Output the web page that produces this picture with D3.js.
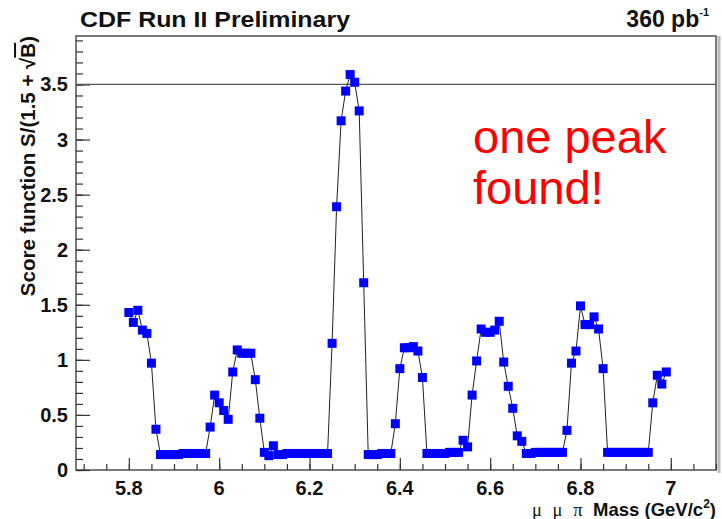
<!DOCTYPE html>
<html>
<head>
<meta charset="utf-8">
<script src="https://cdn.jsdelivr.net/npm/d3@7"></script>
<style>
  html, body { margin: 0; padding: 0; background: #fff; }
  svg { display: block; }
  text { font-family: "Liberation Sans", Arial, Helvetica, sans-serif; }
</style>
</head>
<body>
<svg id="chart" width="722" height="519"></svg>
<script>
// μμπ invariant mass bin centres (GeV/c^2)
const mass = [
  5.80, 5.81, 5.82, 5.83, 5.84, 5.85, 5.86, 5.87, 5.88, 5.89,
  5.90, 5.91, 5.92, 5.93, 5.94, 5.95, 5.96, 5.97, 5.98, 5.99,
  6.00, 6.01, 6.02, 6.03, 6.04, 6.05, 6.06, 6.07, 6.08, 6.09,
  6.10, 6.11, 6.12, 6.13, 6.14, 6.15, 6.16, 6.17, 6.18, 6.19,
  6.20, 6.21, 6.22, 6.23, 6.24, 6.25, 6.26, 6.27, 6.28, 6.29,
  6.30, 6.31, 6.32, 6.33, 6.34, 6.35, 6.36, 6.37, 6.38, 6.39,
  6.40, 6.41, 6.42, 6.43, 6.44, 6.45, 6.46, 6.47, 6.48, 6.49,
  6.50, 6.51, 6.52, 6.53, 6.54, 6.55, 6.56, 6.57, 6.58, 6.59,
  6.60, 6.61, 6.62, 6.63, 6.64, 6.65, 6.66, 6.67, 6.68, 6.69,
  6.70, 6.71, 6.72, 6.73, 6.74, 6.75, 6.76, 6.77, 6.78, 6.79,
  6.80, 6.81, 6.82, 6.83, 6.84, 6.85, 6.86, 6.87, 6.88, 6.89,
  6.90, 6.91, 6.92, 6.93, 6.94, 6.95, 6.96, 6.97, 6.98, 6.99
];

// Score function S/(1.5 + sqrt(B)) for each mass bin
const score = [
  1.43, 1.34, 1.45, 1.27, 1.24, 0.97, 0.37, 0.14, 0.14, 0.14,
  0.14, 0.14, 0.15, 0.15, 0.15, 0.15, 0.15, 0.15, 0.39, 0.68,
  0.61, 0.54, 0.46, 0.89, 1.09, 1.06, 1.06, 1.06, 0.82, 0.47,
  0.16, 0.13, 0.22, 0.14, 0.14, 0.15, 0.15, 0.15, 0.15, 0.15,
  0.15, 0.15, 0.15, 0.15, 0.15, 1.15, 2.39, 3.17, 3.44, 3.59,
  3.52, 3.26, 1.70, 0.14, 0.14, 0.14, 0.15, 0.15, 0.15, 0.42,
  0.92, 1.11, 1.11, 1.12, 1.08, 0.84, 0.15, 0.15, 0.15, 0.15,
  0.15, 0.16, 0.16, 0.16, 0.27, 0.21, 0.68, 0.99, 1.28, 1.25,
  1.25, 1.27, 1.35, 0.98, 0.76, 0.56, 0.31, 0.26, 0.15, 0.15,
  0.16, 0.16, 0.16, 0.16, 0.16, 0.16, 0.16, 0.36, 0.97, 1.08,
  1.49, 1.32, 1.32, 1.39, 1.28, 0.92, 0.16, 0.16, 0.16, 0.16,
  0.16, 0.16, 0.16, 0.16, 0.16, 0.16, 0.61, 0.86, 0.78, 0.89
];

// Axis ticks
const xMajorTicks = [5.8, 6.0, 6.2, 6.4, 6.6, 6.8, 7.0];
const xTickLabels = ["5.8", "6", "6.2", "6.4", "6.6", "6.8", "7"];
const yMajorTicks = [0, 0.5, 1, 1.5, 2, 2.5, 3, 3.5];
const yTickLabels = ["0", "0.5", "1", "1.5", "2", "2.5", "3", "3.5"];
const threshold = 3.5;

const svg = d3.select("#chart");
const plot = { left: 76, right: 716, top: 36, bottom: 470 };

const x = d3.scaleLinear().domain([5.683, 7.1]).range([plot.left, plot.right]);
const y = d3.scaleLinear().domain([0, 3.94]).range([plot.bottom, plot.top]);

svg.append("rect").attr("width", 722).attr("height", 519).attr("fill", "#fff");

// Minor tick positions
const xMinor = d3.range(5.70, 7.101, 0.05).map(v => +v.toFixed(2));
const yMinor = d3.range(0, 3.91, 0.1).map(v => +v.toFixed(1));

// Bottom axis: ticks pointing into the frame
const xAxisMajor = d3.axisTop(x).tickValues(xMajorTicks).tickSize(12).tickFormat("");
const xAxisMinor = d3.axisTop(x).tickValues(xMinor).tickSize(6).tickFormat("");
[xAxisMinor, xAxisMajor].forEach(ax => {
  const g = svg.append("g").attr("transform", `translate(0,${plot.bottom})`).call(ax);
  g.select(".domain").remove();
  g.selectAll("line").attr("stroke", "#333").attr("stroke-width", 1.2);
});

// Left axis: ticks pointing into the frame
const yAxisMajor = d3.axisRight(y).tickValues(yMajorTicks).tickSize(14).tickFormat("");
const yAxisMinor = d3.axisRight(y).tickValues(yMinor).tickSize(7).tickFormat("");
[yAxisMinor, yAxisMajor].forEach(ax => {
  const g = svg.append("g").attr("transform", `translate(${plot.left},0)`).call(ax);
  g.select(".domain").remove();
  g.selectAll("line").attr("stroke", "#333").attr("stroke-width", 1.2);
});

// Tick labels
svg.append("g").selectAll("text").data(xMajorTicks).join("text")
  .attr("x", d => x(d)).attr("y", 495)
  .attr("text-anchor", "middle")
  .attr("font-size", 20).attr("font-weight", "bold").attr("fill", "#111")
  .text((d, i) => xTickLabels[i]);

svg.append("g").selectAll("text").data(yMajorTicks).join("text")
  .attr("x", 68).attr("y", d => y(d) + 7)
  .attr("text-anchor", "end")
  .attr("font-size", 20).attr("font-weight", "bold").attr("fill", "#111")
  .text((d, i) => yTickLabels[i]);

// Frame
svg.append("rect")
  .attr("x", plot.left).attr("y", plot.top)
  .attr("width", plot.right - plot.left).attr("height", plot.bottom - plot.top)
  .attr("fill", "none").attr("stroke", "#333").attr("stroke-width", 1.3);
svg.append("line")
  .attr("x1", plot.right + 3).attr("x2", plot.right + 3)
  .attr("y1", plot.top).attr("y2", plot.bottom + 3)
  .attr("stroke", "#bbb").attr("stroke-width", 3);

// Threshold line
svg.append("line")
  .attr("x1", plot.left).attr("x2", plot.right)
  .attr("y1", y(threshold)).attr("y2", y(threshold))
  .attr("stroke", "#555").attr("stroke-width", 1.2);

// Connecting line and markers
const pts = mass.map((m, i) => [m, score[i]]);
svg.append("path")
  .datum(pts)
  .attr("fill", "none").attr("stroke", "#222").attr("stroke-width", 1)
  .attr("d", d3.line().x(d => x(d[0])).y(d => y(d[1])));

svg.append("g").selectAll("rect").data(pts).join("rect")
  .attr("x", d => x(d[0]) - 4.5).attr("y", d => y(d[1]) - 4.5)
  .attr("width", 9).attr("height", 9)
  .attr("fill", "#0000ff");

// Header texts
svg.append("text")
  .attr("x", 80).attr("y", 27)
  .attr("font-size", 22).attr("font-weight", "bold").attr("fill", "#111")
  .attr("textLength", 270).attr("lengthAdjust", "spacingAndGlyphs")
  .text("CDF Run II Preliminary");

const lumi = svg.append("text")
  .attr("x", 709).attr("y", 27).attr("text-anchor", "end")
  .attr("font-size", 23).attr("font-weight", "bold").attr("fill", "#111");
lumi.append("tspan").text("360 pb");
lumi.append("tspan").attr("font-size", 11).attr("dy", -11).text("-1");

// Axis titles
const yTitle = svg.append("text")
  .attr("transform", `translate(35,${plot.top}) rotate(-90)`)
  .attr("text-anchor", "end")
  .attr("font-size", 20.5).attr("font-weight", "bold").attr("fill", "#111");
yTitle.append("tspan").text("Score function S/(1.5 + √");
yTitle.append("tspan").attr("text-decoration", "overline").text("B");
yTitle.append("tspan").text(")");

const xTitle = svg.append("text")
  .attr("x", 716).attr("y", 516).attr("text-anchor", "end")
  .attr("font-size", 18.5).attr("fill", "#111");
xTitle.append("tspan").attr("font-family", "'Liberation Serif', 'DejaVu Serif', serif")
  .attr("word-spacing", 6)
  .text("μ μ π ");
xTitle.append("tspan").attr("font-weight", "bold").text("Mass (GeV/c");
xTitle.append("tspan").attr("font-weight", "bold").attr("font-size", 12).attr("dy", -8).text("2");
xTitle.append("tspan").attr("font-weight", "bold").attr("dy", 8).text(")");

// Annotation
const note = svg.append("text")
  .attr("x", 473).attr("y", 153)
  .attr("font-size", 47).attr("fill", "#ff0000");
note.append("tspan").attr("x", 473).text("one peak");
note.append("tspan").attr("x", 473).attr("dy", 51).text("found!");
</script>
</body>
</html>
